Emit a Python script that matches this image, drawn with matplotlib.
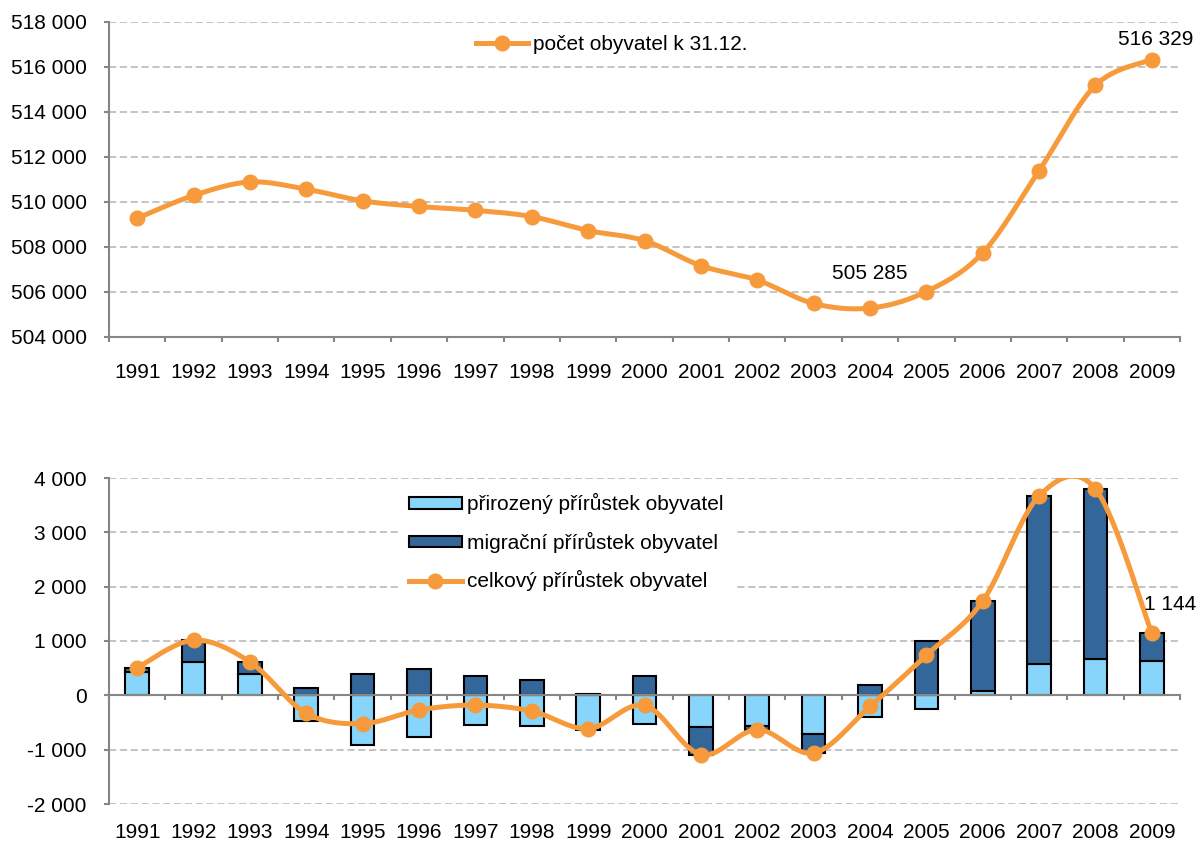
import numpy as np
import matplotlib
matplotlib.use("Agg")
import matplotlib.pyplot as plt
from matplotlib.patches import Patch
from matplotlib.lines import Line2D

years = [str(y) for y in range(1991, 2010)]
population = [509280, 510290, 510890, 510570, 510050, 509800, 509630, 509350, 508730, 508280,
              507170, 506530, 505490, 505285, 506020, 507740, 511390, 515185, 516329]
natural_growth = [430, 605, 400, -465, -905, -760, -545, -570, -640, -535,
                  -585, -565, -710, -390, -260, 80, 585, 665, 640]
migration_growth = [75, 410, 215, 135, 385, 490, 365, 280, 25, 350,
                    -505, -65, -350, 185, 1000, 1655, 3085, 3135, 504]
total_growth = [505, 1015, 615, -330, -520, -270, -180, -290, -615, -185,
                -1090, -630, -1060, -205, 740, 1735, 3670, 3800, 1144]

ORANGE = "#F79A3B"
LIGHT_BLUE = "#87D5FB"
DARK_BLUE = "#336699"
GRID = "#BFBFBF"
AXIS = "#868686"
FS = 15

plt.rcParams["font.family"] = ["Liberation Sans", "DejaVu Sans"]
plt.rcParams["font.size"] = FS


def smooth_curve(x, y, steps=40):
    # excel-like smoothed line (catmull-rom as cubic bezier)
    pts = np.column_stack([np.asarray(x, float), np.asarray(y, float)])
    pts = np.vstack([pts[0], pts, pts[-1]])
    t = np.linspace(0, 1, steps)[:, None]
    out = []
    for i in range(1, len(pts) - 2):
        p0, p3 = pts[i], pts[i + 1]
        c1 = p0 + (pts[i + 1] - pts[i - 1]) / 6
        c2 = p3 - (pts[i + 2] - pts[i]) / 6
        seg = (1 - t) ** 3 * p0 + 3 * (1 - t) ** 2 * t * c1 + 3 * (1 - t) * t ** 2 * c2 + t ** 3 * p3
        out.append(seg)
    out = np.vstack(out)
    return out[:, 0], out[:, 1]


def space_fmt(v, pos=None):
    return f"{v:,.0f}".replace(",", " ")


def style_axes(ax, label_gap):
    ax.set_xlim(-0.5, len(years) - 0.5)
    for side in ("top", "right"):
        ax.spines[side].set_visible(False)
    for side in ("left", "bottom"):
        ax.spines[side].set_color(AXIS)
        ax.spines[side].set_linewidth(1.5)
    ax.set_xticks(np.arange(-0.5, len(years), 1.0))
    ax.set_xticklabels([])
    ax.tick_params(axis="both", which="major", direction="out", length=3.6, width=1.5,
                   color=AXIS)
    ax.tick_params(axis="y", pad=12.5, labelsize=FS)
    ax.yaxis.set_major_formatter(matplotlib.ticker.FuncFormatter(space_fmt))
    ax.grid(axis="y", color=GRID, linestyle=(0, (4, 2)), linewidth=1.3)
    ax.set_axisbelow(True)
    for i, lab in enumerate(years):
        ax.text(i, -label_gap / ax.bbox.height, lab, transform=ax.get_xaxis_transform(),
                ha="center", va="center", fontsize=FS)


fig = plt.figure(figsize=(11.97, 8.48), dpi=100)
W, H = 1197, 848
ax1 = fig.add_axes([109 / W, 1 - 337 / H, 1071 / W, 315 / H])
ax2 = fig.add_axes([109 / W, 1 - 804 / H, 1071 / W, 326 / H])

x = np.arange(len(years))

# top chart - population
ax1.set_ylim(504000, 518000)
ax1.set_yticks(np.arange(504000, 518001, 2000))
style_axes(ax1, 36)
sx, sy = smooth_curve(x, population)
ax1.plot(sx, sy, color=ORANGE, lw=3.6, solid_capstyle="round", zorder=3)
ax1.plot(x, population, "o", color=ORANGE, ms=10.5, zorder=4)
ax1.annotate(space_fmt(population[-1]), (x[-1], population[-1]), xytext=(3, 14.5),
             textcoords="offset points", ha="center", va="center", fontsize=FS,
             annotation_clip=False)
i_min = int(np.argmin(population))
ax1.annotate(space_fmt(population[i_min]), (x[i_min], population[i_min]), xytext=(0, 25),
             textcoords="offset points", ha="center", va="center", fontsize=FS)
h1 = Line2D([], [], color=ORANGE, lw=3.6, marker="o", ms=10.5)
fig.legend([h1], ["počet obyvatel k 31.12."], loc="center left",
           bbox_to_anchor=(476 / W, 1 - 45 / H), frameon=False, borderpad=0,
           borderaxespad=0, handlelength=2.5, handletextpad=0.25, fontsize=FS)

# bottom chart - growth
nat = np.array(natural_growth)
mig = np.array(migration_growth)
mig_bottom = np.where(np.sign(mig) == np.sign(nat), nat, 0)
ax2.set_ylim(-2000, 4000)
ax2.set_yticks(np.arange(-2000, 4001, 1000))
ax2.spines["bottom"].set_position(("data", 0))
style_axes(ax2, 29)
ax2.bar(x, nat, width=0.42, color=LIGHT_BLUE, edgecolor="black", linewidth=1.5, zorder=2)
ax2.bar(x, mig, width=0.42, bottom=mig_bottom, color=DARK_BLUE, edgecolor="black",
        linewidth=1.5, zorder=2)
sx, sy = smooth_curve(x, total_growth)
ax2.plot(sx, sy, color=ORANGE, lw=3.6, solid_capstyle="round", zorder=3)
ax2.plot(x, total_growth, "o", color=ORANGE, ms=10.5, zorder=4)
ax2.annotate(space_fmt(total_growth[-1]), (x[-1], total_growth[-1]), xytext=(13, 21),
             textcoords="offset points", ha="center", va="center", fontsize=FS,
             annotation_clip=False)

handles = [Patch(facecolor=LIGHT_BLUE, edgecolor="black", linewidth=1.5),
           Patch(facecolor=DARK_BLUE, edgecolor="black", linewidth=1.5),
           Line2D([], [], color=ORANGE, lw=3.6, marker="o", ms=10.5)]
labels = ["přirozený přírůstek obyvatel", "migrační přírůstek obyvatel",
          "celkový přírůstek obyvatel"]
leg = ax2.legend(handles, labels, loc="upper left", bbox_to_anchor=(399 / W, 1 - 483 / H),
                 bbox_transform=fig.transFigure, frameon=True, facecolor="white",
                 edgecolor="none", framealpha=1, fancybox=False, borderpad=0.5,
                 borderaxespad=0, handlelength=2.5, handleheight=0.5, handletextpad=0.25,
                 labelspacing=0.83, fontsize=FS)
leg.set_zorder(5)

fig.savefig("out.png", dpi=100)
